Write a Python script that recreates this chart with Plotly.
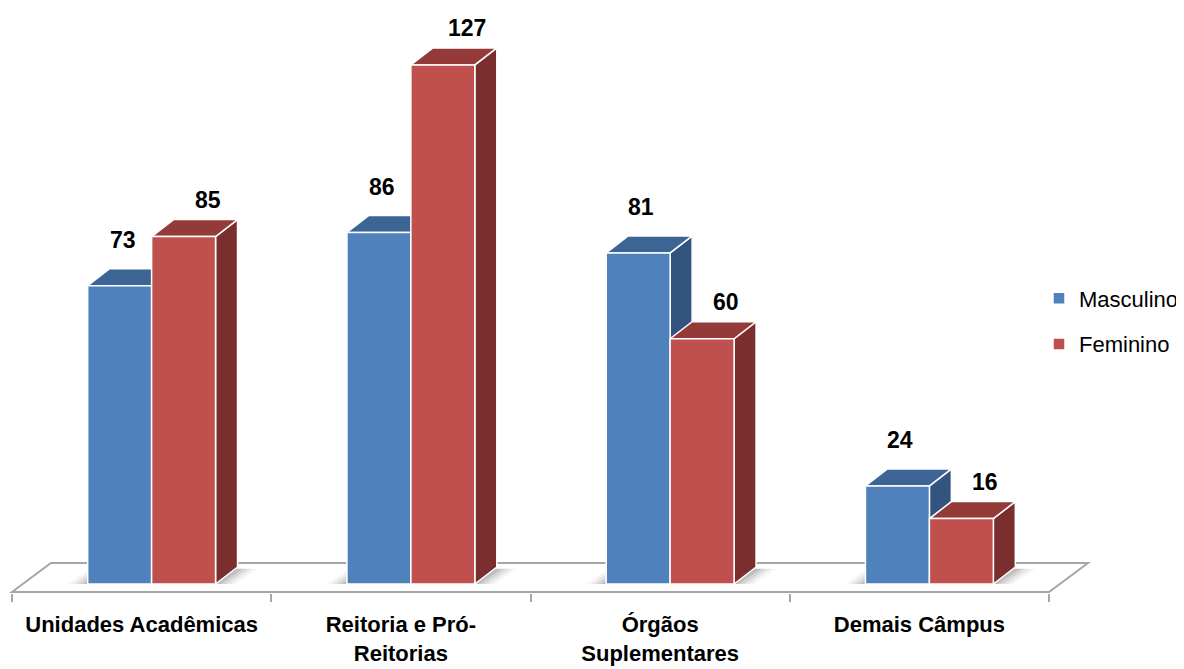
import plotly.graph_objects as go

# ---------------- data ----------------
categories = ["Unidades Acadêmicas", "Reitoria e Pró-Reitorias", "Órgãos Suplementares", "Demais Câmpus"]
tick_labels = ["Unidades Acadêmicas", "Reitoria e Pró-<br>Reitorias", "Órgãos<br>Suplementares", "Demais Câmpus"]
masculino = [73, 86, 81, 24]
feminino = [85, 127, 60, 16]
series_names = ["Masculino", "Feminino"]

# ---------------- styles ----------------
FONT = "Liberation Sans, Arial, sans-serif"
FRONT = ["#4F81BD", "#C0504D"]
TOP = ["#3C6494", "#943B39"]
SIDE = ["#32547F", "#7A2F2E"]
FLOOR_LINE = "#A6A6A6"

# ---------------- geometry (pixels -> axis units) ----------------
# page body has an 8px margin, so the figure is drawn 8px smaller
W, H = 1176, 661
ML, MR, MT, MB = 0, 84, 0, 76
PX_X = 259.5          # px per category
PX_Y = 4.087          # px per value unit
X0 = -0.5 - 4 / PX_X
X1 = X0 + (W - ML - MR) / PX_X
Y0 = -9 / PX_Y
PLOT_H = H - MT - MB
Y1 = Y0 + PLOT_H / PX_Y

BW = 64 / PX_X                 # bar width
SHIFT = 10 / PX_X              # group shift
DX, DY = 22 / PX_X, 17 / PX_Y  # 3D depth
offsets = [SHIFT - BW / 2, SHIFT + BW / 2]

n = len(categories)
series = [masculino, feminino]

fig = go.Figure()

for s, vals in enumerate(series):
    fig.add_trace(go.Bar(
        x=[i + offsets[s] for i in range(n)],
        y=vals,
        width=BW,
        name=series_names[s],
        legendgroup=series_names[s],
        marker=dict(color=FRONT[s], line=dict(color="white", width=1.5)),
        hoverinfo="skip",
    ))

shapes = []
# floor
fy = -8 / PX_Y
fdx, fdy = 39 / PX_X, 29 / PX_Y
shapes.append(dict(
    type="path", xref="x", yref="y", layer="below",
    path=f"M{-0.5},{fy} L{n-0.5},{fy} L{n-0.5+fdx},{fy+fdy} L{-0.5+fdx},{fy+fdy} Z",
    fillcolor="white", line=dict(color=FLOOR_LINE, width=2),
))
# soft shadows on the floor
for i in range(n):
    xl = i + offsets[0] - BW / 2
    xr = i + offsets[1] + BW / 2
    for k, a in enumerate([0.04, 0.06, 0.08, 0.10]):
        e = (4 - k) * 5 / PX_X
        top = DY * 0.9
        shapes.append(dict(
            type="path", xref="x", yref="y", layer="below",
            path=(f"M{xl - e},{0} L{xr + e},{0} "
                  f"L{xr + DX + e},{top} L{xl + DX - e},{top} Z"),
            fillcolor=f"rgba(0,0,0,{a})", line=dict(width=0),
        ))
# 3D faces (top and side) computed from values
for s, vals in enumerate(series):
    for i, v in enumerate(vals):
        xc = i + offsets[s]
        xa, xb = xc - BW / 2, xc + BW / 2
        shapes.append(dict(
            type="path", xref="x", yref="y", layer="below",
            path=f"M{xb},{0} L{xb},{v} L{xb+DX},{v+DY} L{xb+DX},{DY} Z",
            fillcolor=SIDE[s], line=dict(color="white", width=1.5),
        ))
        shapes.append(dict(
            type="path", xref="x", yref="y", layer="below",
            path=f"M{xa},{v} L{xb},{v} L{xb+DX},{v+DY} L{xa+DX},{v+DY} Z",
            fillcolor=TOP[s], line=dict(color="white", width=1.5),
        ))

annotations = []
label_shift = [(3, 31), (24, 22)]
for s, vals in enumerate(series):
    for i, v in enumerate(vals):
        annotations.append(dict(
            x=i + offsets[s], y=v, xref="x", yref="y",
            text=str(v), showarrow=False, yanchor="bottom",
            xshift=label_shift[s][0], yshift=label_shift[s][1],
            font=dict(family=FONT, size=23, color="black", weight="bold"),
        ))

fig.update_layout(
    width=W, height=H,
    margin=dict(l=ML, r=MR, t=MT, b=MB),
    paper_bgcolor="white", plot_bgcolor="white",
    barmode="overlay",
    shapes=shapes, annotations=annotations,
    showlegend=True,
    legend=dict(
        x=1032 / (W - ML - MR), xanchor="left",
        y=1 - 313.5 / PLOT_H, yanchor="middle",
        font=dict(family=FONT, size=22, color="black"),
        tracegroupgap=14, traceorder="grouped", bgcolor="rgba(0,0,0,0)",
    ),
    xaxis=dict(
        range=[X0, X1], showgrid=False, zeroline=False, showline=False,
        tickmode="array", tickvals=list(range(n)), ticktext=tick_labels,
        ticks="", ticklabelstandoff=16,
        tickfont=dict(family=FONT, size=22, color="black", weight="bold"),
        minor=dict(tickmode="array", tickvals=[i - 0.5 for i in range(n + 1)],
                   ticks="outside", ticklen=8, tickcolor=FLOOR_LINE, tickwidth=2,
                   showgrid=False),
        fixedrange=True,
    ),
    yaxis=dict(range=[Y0, Y1], visible=False, fixedrange=True),
)

fig.write_html("out.html")
